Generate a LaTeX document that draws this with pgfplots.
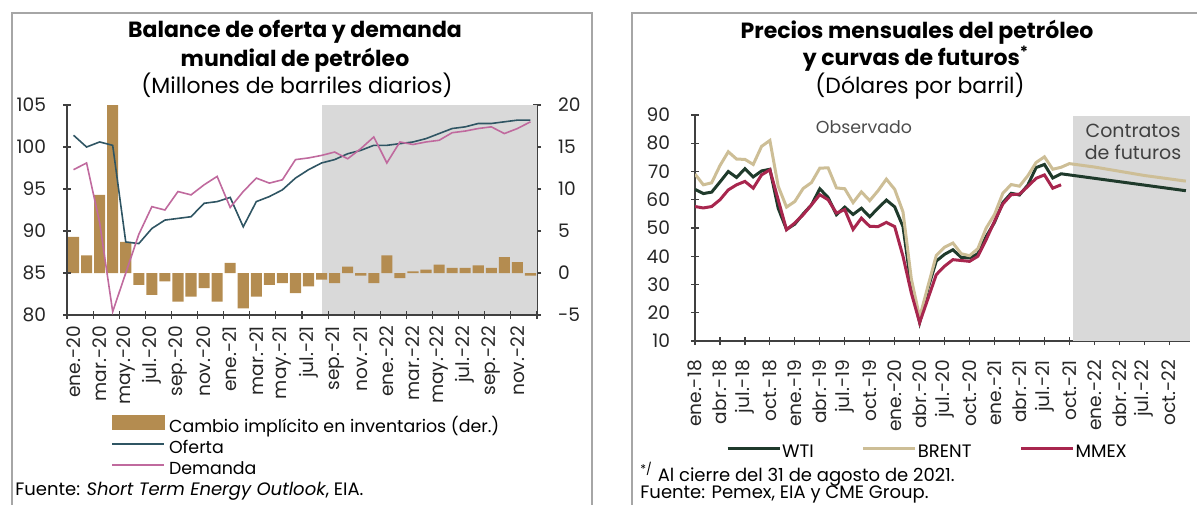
\documentclass[border=0pt]{standalone}
\usepackage{fontspec}
\setmainfont{Poppins}
\usepackage{pgfplots}
\pgfplotsset{compat=1.18}

\definecolor{barc}{HTML}{B48C50}
\definecolor{ofer}{HTML}{2F5563}
\definecolor{dem}{HTML}{C06A9E}
\definecolor{wti}{HTML}{1F3A2B}
\definecolor{brent}{HTML}{CDBE96}
\definecolor{mmex}{HTML}{A8264E}
\definecolor{shade}{HTML}{D9D9D9}
\definecolor{framec}{HTML}{A6A6A6}
\definecolor{axc}{HTML}{404040}

\newcommand\tickfont{\fontsize{9.3}{10}\selectfont}

\pgfplotsset{
  chart/.style={
    scale only axis,
    axis line style={axc, line width=0.6pt},
    tick style={axc, line width=0.6pt},
    tick align=center,
    tick label style={font=\tickfont, text=black!85},
    /pgf/number format/assume math mode=true,
    yticklabel shift=7pt,
    xticklabel style={rotate=90, anchor=east},
  },
  lineleg/.style={legend image code/.code={\draw[##1] (0pt,2.5pt) -- (26pt,2.5pt);}},
}

\begin{document}
\begin{tikzpicture}
\useasboundingbox (0,0) rectangle (598.5pt,-252pt);

% frames
\draw[framec, line width=0.75pt] (6pt,-6.5pt) rectangle (296pt,-275pt);
\draw[framec, line width=0.75pt] (316pt,-6.5pt) rectangle (600pt,-275pt);

% ---------- left: bars (right axis) ----------
\begin{axis}[chart,
  at={(33.5pt,-157.5pt)}, anchor=south west,
  width=235pt, height=105pt,
  xmin=0, xmax=36, ymin=-5, ymax=20,
  axis x line=none, axis y line*=right,
  ytick={-5,0,...,20}, yticklabels={-5,0,5,10,15,20},
  major tick length=0pt, minor tick length=4pt,
  minor ytick={-5,0,...,20},
]
\addplot[fill=shade, draw=none, forget plot] coordinates {(19.5,-5) (19.5,20) (36,20) (36,-5)} -- cycle;
\addplot[ybar, bar width=0.85, bar shift=0pt, fill=barc, draw=none] coordinates {
(0.5,4.3) (1.5,2.1) (2.5,9.3) (3.5,20.0) (4.5,3.7) (5.5,-1.4) (6.5,-2.6) (7.5,-1.0)
(8.5,-3.4) (9.5,-2.8) (10.5,-1.8) (11.5,-3.4) (12.5,1.2) (13.5,-4.2) (14.5,-2.8) (15.5,-1.4)
(16.5,-1.2) (17.5,-2.4) (18.5,-1.6) (19.5,-0.8) (20.5,-1.2) (21.5,0.75) (22.5,-0.3) (23.5,-1.2)
(24.5,2.1) (25.5,-0.6) (26.5,0.2) (27.5,0.4) (28.5,1.0) (29.5,0.6) (30.5,0.6) (31.5,0.9)
(32.5,0.6) (33.5,1.9) (34.5,1.3) (35.5,-0.3)
};
\end{axis}

% ---------- left: lines (left axis) ----------
\begin{axis}[chart,
  at={(33.5pt,-157.5pt)}, anchor=south west,
  width=235pt, height=105pt,
  xmin=0, xmax=36, ymin=80, ymax=105,
  axis x line*=bottom, axis y line*=left,
  ytick={80,85,...,105},
  xtick={0.5,2.5,...,34.5},
  xticklabels={ene.-20,mar.-20,may.-20,jul.-20,sep.-20,nov.-20,ene.-21,mar.-21,may.-21,jul.-21,sep.-21,nov.-21,ene.-22,mar.-22,may.-22,jul.-22,sep.-22,nov.-22},
  xticklabel shift=2pt,
  major tick length=0pt, minor tick length=4pt,
  minor xtick={0,2,...,36}, minor ytick={80,85,...,105},
  lineleg,
  legend cell align=left,
  legend style={at={(0.081,-0.457)}, anchor=north west, draw=none, fill=none,
    font=\fontsize{8.7}{9}\selectfont, row sep=3pt,
    nodes={inner sep=0pt, text height=6pt, text depth=1.5pt},
    /tikz/every odd column/.append style={column sep=2pt}},
]
\addlegendimage{legend image code/.code={\fill[barc] (0pt,-1pt) rectangle (26pt,6pt);}}
\addlegendentry{Cambio implícito en inventarios (der.)}
\addplot[ofer, line width=0.8pt] coordinates {
(0.5,101.4) (1.5,100.0) (2.5,100.6) (3.5,100.2) (4.5,88.7) (5.5,88.5) (6.5,90.3) (7.5,91.3)
(8.5,91.5) (9.5,91.7) (10.5,93.3) (11.5,93.5) (12.5,94.0) (13.5,90.5) (14.5,93.5) (15.5,94.1)
(16.5,94.9) (17.5,96.3) (18.5,97.3) (19.5,98.1) (20.5,98.5) (21.5,99.2) (22.5,99.6) (23.5,100.2)
(24.5,100.2) (25.5,100.4) (26.5,100.6) (27.5,101.0) (28.5,101.6) (29.5,102.2) (30.5,102.4) (31.5,102.8)
(32.5,102.8) (33.5,103.0) (34.5,103.2) (35.5,103.2)
};
\addlegendentry{Oferta}
\addplot[dem, line width=0.8pt] coordinates {
(0.5,97.3) (1.5,98.1) (2.5,91.0) (3.5,80.4) (4.5,85.0) (5.5,89.6) (6.5,92.9) (7.5,92.5)
(8.5,94.7) (9.5,94.3) (10.5,95.5) (11.5,96.5) (12.5,92.8) (13.5,94.7) (14.5,96.3) (15.5,95.7)
(16.5,96.1) (17.5,98.5) (18.5,98.7) (19.5,99.0) (20.5,99.4) (21.5,98.6) (22.5,99.8) (23.5,101.2)
(24.5,98.1) (25.5,100.6) (26.5,100.3) (27.5,100.6) (28.5,100.8) (29.5,101.7) (30.5,101.9) (31.5,102.2)
(32.5,102.4) (33.5,101.6) (34.5,102.2) (35.5,103.0)
};
\addlegendentry{Demanda}
\end{axis}

% ---------- right: prices ----------
\begin{axis}[chart,
  at={(347.5pt,-170.5pt)}, anchor=south west,
  width=247.5pt, height=113pt,
  xmin=0, xmax=59.5, ymin=10, ymax=90,
  axis x line*=bottom, axis y line*=left,
  ytick={10,20,...,90},
  xtick={0,3,...,57},
  xticklabels={ene.-18,abr.-18,jul.-18,oct.-18,ene.-19,abr.-19,jul.-19,oct.-19,ene.-20,abr.-20,jul.-20,oct.-20,ene.-21,abr.-21,jul.-21,oct.-21,ene.-22,abr.-22,jul.-22,oct.-22},
  xticklabel shift=4pt,
  major tick length=4pt,
  lineleg,
  legend columns=3,
  legend cell align=left,
  legend style={at={(0.05,-0.496)}, anchor=west, draw=none, fill=none,
    font=\fontsize{9}{9}\selectfont,
    nodes={inner sep=0pt, text height=6pt, text depth=1.5pt},
    /tikz/every odd column/.append style={column sep=0.5pt},
    /tikz/every even column/.append style={column sep=24pt}},
]
\addplot[fill=shade, draw=none, forget plot] coordinates {(45.4,10) (45.4,89.5) (59.5,89.5) (59.5,10)} -- cycle;
\addplot[wti, line width=1.5pt] coordinates {
(0,63.7) (1,62.2) (2,62.7) (3,66.3) (4,70.0) (5,67.9) (6,71.0) (7,68.1) (8,70.2) (9,70.8) (10,57.0) (11,49.5)
(12,51.4) (13,55.0) (14,58.2) (15,63.9) (16,60.8) (17,54.7) (18,57.4) (19,54.8) (20,57.0) (21,54.0) (22,57.0) (23,59.9)
(24,57.5) (25,50.5) (26,29.2) (27,16.6) (28,28.6) (29,38.3) (30,40.7) (31,42.3) (32,39.6) (33,39.4) (34,40.9) (35,47.0)
(36,52.0) (37,59.0) (38,62.3) (39,61.7) (40,65.2) (41,71.4) (42,72.5) (43,67.7)
(44,69.2) (45,68.8) (46,68.4) (47,68.0) (48,67.6) (49,67.2) (50,66.8) (51,66.4) (52,66.0) (53,65.6)
(54,65.2) (55,64.8) (56,64.4) (57,64.0) (58,63.6) (59,63.2)
};
\addlegendentry{WTI}
\addplot[brent, line width=1.5pt] coordinates {
(0,69.1) (1,65.3) (2,66.0) (3,72.1) (4,77.0) (5,74.4) (6,74.3) (7,72.5) (8,78.9) (9,81.0) (10,64.8) (11,57.4)
(12,59.4) (13,64.0) (14,66.1) (15,71.2) (16,71.3) (17,64.2) (18,63.9) (19,59.0) (20,62.8) (21,59.7) (22,63.2) (23,67.3)
(24,63.7) (25,55.7) (26,32.0) (27,18.4) (28,29.4) (29,40.3) (30,43.2) (31,44.7) (32,40.9) (33,40.2) (34,42.7) (35,50.0)
(36,54.8) (37,62.3) (38,65.4) (39,64.8) (40,68.5) (41,73.2) (42,75.2) (43,70.8)
(44,71.5) (45,72.8) (46,72.4) (47,72.0) (48,71.6) (49,71.1) (50,70.6) (51,70.1) (52,69.6) (53,69.1)
(54,68.6) (55,68.2) (56,67.8) (57,67.4) (58,67.0) (59,66.6)
};
\addlegendentry{BRENT}
\addplot[mmex, line width=1.5pt] coordinates {
(0,57.6) (1,57.1) (2,57.6) (3,60.0) (4,63.5) (5,65.3) (6,66.5) (7,64.1) (8,68.8) (9,70.6) (10,60.0) (11,49.4)
(12,51.8) (13,54.7) (14,58.2) (15,61.8) (16,60.0) (17,55.3) (18,56.5) (19,49.5) (20,53.5) (21,50.6) (22,50.5) (23,52.0)
(24,50.5) (25,40.0) (26,27.0) (27,16.5) (28,25.0) (29,33.5) (30,36.5) (31,38.8) (32,38.5) (33,38.2) (34,40.0) (35,45.9)
(36,52.4) (37,58.5) (38,61.8) (39,62.0) (40,64.7) (41,67.6) (42,68.8) (43,64.1) (44,65.3)
};
\addlegendentry{MMEX}
\end{axis}

% ---------- texts ----------
\node[font=\bfseries\fontsize{11}{12}\selectfont, anchor=base] at (147.5pt,-18.5pt) {Balance de oferta y demanda};
\node[font=\bfseries\fontsize{11}{12}\selectfont, anchor=base] at (147.5pt,-33pt) {mundial de petróleo};
\node[font=\fontsize{11}{12}\selectfont, anchor=base] at (148.5pt,-46.5pt) {(Millones de barriles diarios)};
\node[font=\fontsize{9}{10}\selectfont, anchor=base west, inner sep=0pt] at (7.5pt,-247.5pt) {Fuente: \textit{Short Term Energy Outlook}, EIA.};

\node[font=\bfseries\fontsize{11}{12}\selectfont, anchor=base] at (458.5pt,-19pt) {Precios mensuales del petróleo};
\node[font=\bfseries\fontsize{11}{12}\selectfont, anchor=base] at (458pt,-32.5pt) {y curvas de futuros\textsuperscript{*}};
\node[font=\fontsize{11}{12}\selectfont, anchor=base] at (460pt,-46.5pt) {(Dólares por barril)};
\node[font=\fontsize{8.7}{10}\selectfont, text=black!70] at (432pt,-63.5pt) {Observado};
\node[font=\fontsize{9.5}{11}\selectfont, text=black!75, align=center] at (566.5pt,-71pt) {Contratos\\de futuros};
\node[font=\fontsize{9}{10}\selectfont, anchor=base west, inner sep=0pt] at (320pt,-240.5pt) {\textsuperscript{*/} Al cierre del 31 de agosto de 2021.};
\node[font=\fontsize{9}{10}\selectfont, anchor=base west, inner sep=0pt] at (320pt,-249pt) {Fuente: Pemex, EIA y CME Group.};
\end{tikzpicture}
\end{document}
